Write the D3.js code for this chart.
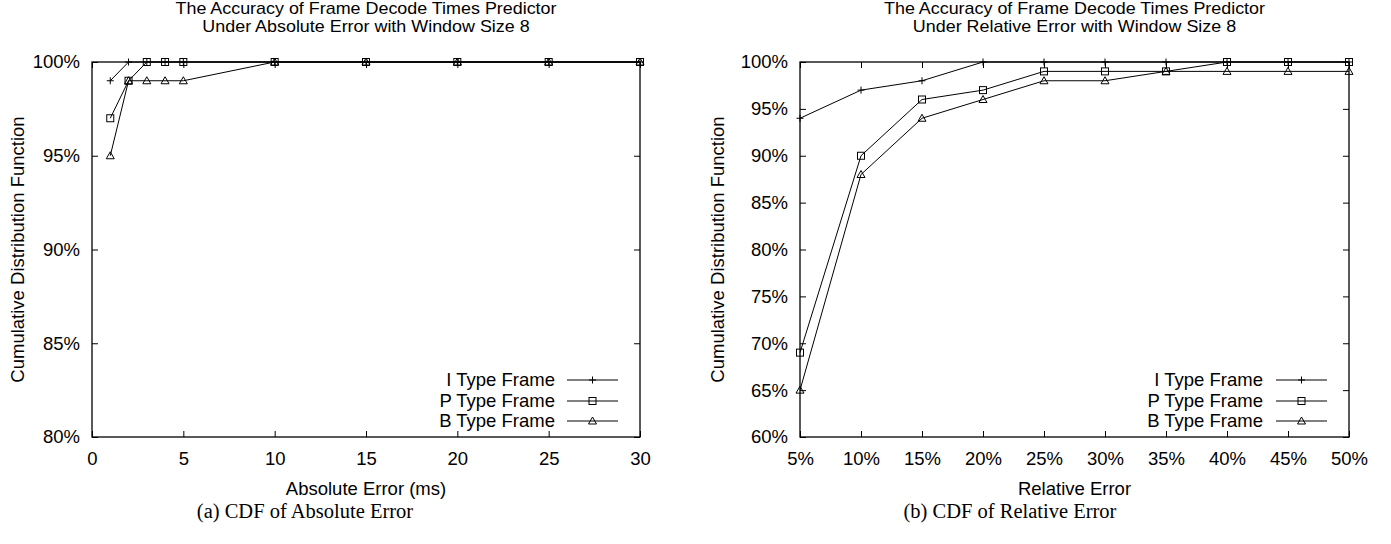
<!DOCTYPE html>
<html>
<head>
<meta charset="utf-8">
<script src="https://cdn.jsdelivr.net/npm/d3@7"></script>
<style>
  html, body { margin: 0; padding: 0; background: #fff; }
  svg { display: block; }
  text { fill: #000; }
</style>
</head>
<body>
<svg id="chart" width="1391" height="544"></svg>
<script>
// ---- Data ----
const seriesNames = ["I Type Frame", "P Type Frame", "B Type Frame"];
const seriesMarkers = ["plus", "square", "triangle"];

// Panel (a): absolute error (ms)
const absX = [1, 2, 3, 4, 5, 10, 15, 20, 25, 30];
const absI = [99, 100, 100, 100, 100, 100, 100, 100, 100, 100];
const absP = [97, 99, 100, 100, 100, 100, 100, 100, 100, 100];
const absB = [95, 99, 99, 99, 99, 100, 100, 100, 100, 100];
const absXTicks = [0, 5, 10, 15, 20, 25, 30];
const absYTicks = [80, 85, 90, 95, 100];

// Panel (b): relative error (%)
const relX = [5, 10, 15, 20, 25, 30, 35, 40, 45, 50];
const relI = [94, 97, 98, 100, 100, 100, 100, 100, 100, 100];
const relP = [69, 90, 96, 97, 99, 99, 99, 100, 100, 100];
const relB = [65, 88, 94, 96, 98, 98, 99, 99, 99, 99];
const relXTicks = [5, 10, 15, 20, 25, 30, 35, 40, 45, 50];
const relYTicks = [60, 65, 70, 75, 80, 85, 90, 95, 100];

const titlesA = ["The Accuracy of Frame Decode Times Predictor", "Under Absolute Error with Window Size 8"];
const titlesB = ["The Accuracy of Frame Decode Times Predictor", "Under Relative Error with Window Size 8"];

// ---- Drawing ----
const svg = d3.select("#chart");
const SANS = "'Liberation Sans', Arial, Helvetica, sans-serif";
const SERIF = "'Liberation Serif', 'Times New Roman', serif";
const FS = 18.5;

function marker(g, type, x, y) {
  const s = 3.5;
  if (type === "plus") {
    g.append("path").attr("d", `M${x - s},${y}H${x + s}M${x},${y - s}V${y + s}`)
      .attr("stroke", "#000").attr("stroke-width", 1).attr("fill", "none");
  } else if (type === "square") {
    g.append("rect").attr("x", x - s).attr("y", y - s).attr("width", 2 * s).attr("height", 2 * s)
      .attr("stroke", "#000").attr("stroke-width", 1).attr("fill", "none");
  } else {
    g.append("path").attr("d", `M${x},${y - s - 0.5}L${x + s + 0.5},${y + s - 0.5}L${x - s - 0.5},${y + s - 0.5}Z`)
      .attr("stroke", "#000").attr("stroke-width", 1).attr("fill", "none");
  }
}

function panel(cfg) {
  const { left, right, top, bottom, xDomain, yDomain, xTicks, yTicks, xFmt, xs, series,
          titles, xLabel, caption, captionX, yLabelX, legendTextX, legendLine } = cfg;
  const x = d3.scaleLinear().domain(xDomain).range([left, right]);
  const y = d3.scaleLinear().domain(yDomain).range([bottom, top]);
  const g = svg.append("g");
  const tickLen = 6;

  // Axes (ticks inward, mirrored)
  const axB = d3.axisBottom(x).tickValues(xTicks).tickSizeInner(-tickLen).tickSizeOuter(0).tickPadding(15).tickFormat(xFmt);
  const axT = d3.axisTop(x).tickValues(xTicks).tickSizeInner(-tickLen).tickSizeOuter(0).tickFormat("");
  const axL = d3.axisLeft(y).tickValues(yTicks).tickSizeInner(-tickLen).tickSizeOuter(0).tickPadding(12).tickFormat(d => d + "%");
  const axR = d3.axisRight(y).tickValues(yTicks).tickSizeInner(-tickLen).tickSizeOuter(0).tickFormat("");

  const gb = g.append("g").attr("transform", `translate(0,${bottom})`).call(axB);
  g.append("g").attr("transform", `translate(0,${top})`).call(axT);
  const gl = g.append("g").attr("transform", `translate(${left},0)`).call(axL);
  g.append("g").attr("transform", `translate(${right},0)`).call(axR);
  g.selectAll(".domain").remove();
  g.selectAll(".tick line").attr("stroke", "#000").attr("stroke-width", 1);
  gb.selectAll(".tick text").attr("font-family", SANS).attr("font-size", FS).attr("fill", "#000");
  gl.selectAll(".tick text").attr("font-family", SANS).attr("font-size", FS).attr("fill", "#000");

  // Frame
  g.append("rect").attr("x", left).attr("y", top).attr("width", right - left).attr("height", bottom - top)
    .attr("fill", "none").attr("stroke", "#000").attr("stroke-width", 1.3);

  // Series
  const line = d3.line().x(d => x(d[0])).y(d => y(d[1]));
  series.forEach((vals, i) => {
    const pts = xs.map((xv, k) => [xv, vals[k]]);
    g.append("path").datum(pts).attr("d", line).attr("fill", "none").attr("stroke", "#000").attr("stroke-width", 1);
    pts.forEach(p => marker(g, seriesMarkers[i], x(p[0]), y(p[1])));
  });

  // Legend
  const rowY = [380, 401, 421];
  seriesNames.forEach((name, i) => {
    g.append("text").attr("x", legendTextX).attr("y", rowY[i]).attr("dy", "0.35em")
      .attr("text-anchor", "end").attr("font-family", SANS).attr("font-size", FS).text(name);
    g.append("line").attr("x1", legendLine[0]).attr("x2", legendLine[1]).attr("y1", rowY[i]).attr("y2", rowY[i])
      .attr("stroke", "#000").attr("stroke-width", 1);
    marker(g, seriesMarkers[i], (legendLine[0] + legendLine[1]) / 2, rowY[i]);
  });

  // Title (slightly widened, tight two-line block)
  const cx = (left + right) / 2;
  titles.forEach((t, i) => {
    g.append("text").attr("transform", `translate(${cx},${14 + i * 18}) scale(1.12,1)`)
      .attr("text-anchor", "middle")
      .attr("font-family", SANS).attr("font-size", 16).text(t);
  });

  // X label
  g.append("text").attr("x", cx).attr("y", 495).attr("text-anchor", "middle")
    .attr("font-family", SANS).attr("font-size", FS).text(xLabel);

  // Y label
  g.append("text").attr("transform", `translate(${yLabelX},${(top + bottom) / 2}) rotate(-90)`)
    .attr("text-anchor", "middle").attr("dy", "0.35em")
    .attr("font-family", SANS).attr("font-size", FS).text("Cumulative Distribution Function");

  // Caption
  g.append("text").attr("x", captionX).attr("y", 518).attr("text-anchor", "middle")
    .attr("font-family", SERIF).attr("font-size", 20.5).text(caption);
}

panel({
  left: 92, right: 640, top: 62, bottom: 437,
  xDomain: [0, 30], yDomain: [80, 100],
  xTicks: absXTicks, yTicks: absYTicks, xFmt: d => d,
  xs: absX, series: [absI, absP, absB],
  titles: titlesA, xLabel: "Absolute Error (ms)", caption: "(a) CDF of Absolute Error",
  captionX: 305, yLabelX: 18, legendTextX: 555, legendLine: [567, 618]
});

panel({
  left: 800, right: 1349, top: 62, bottom: 437,
  xDomain: [5, 50], yDomain: [60, 100],
  xTicks: relXTicks, yTicks: relYTicks, xFmt: d => d + "%",
  xs: relX, series: [relI, relP, relB],
  titles: titlesB, xLabel: "Relative Error", caption: "(b) CDF of Relative Error",
  captionX: 1010, yLabelX: 718, legendTextX: 1263, legendLine: [1276, 1327]
});
</script>
</body>
</html>
